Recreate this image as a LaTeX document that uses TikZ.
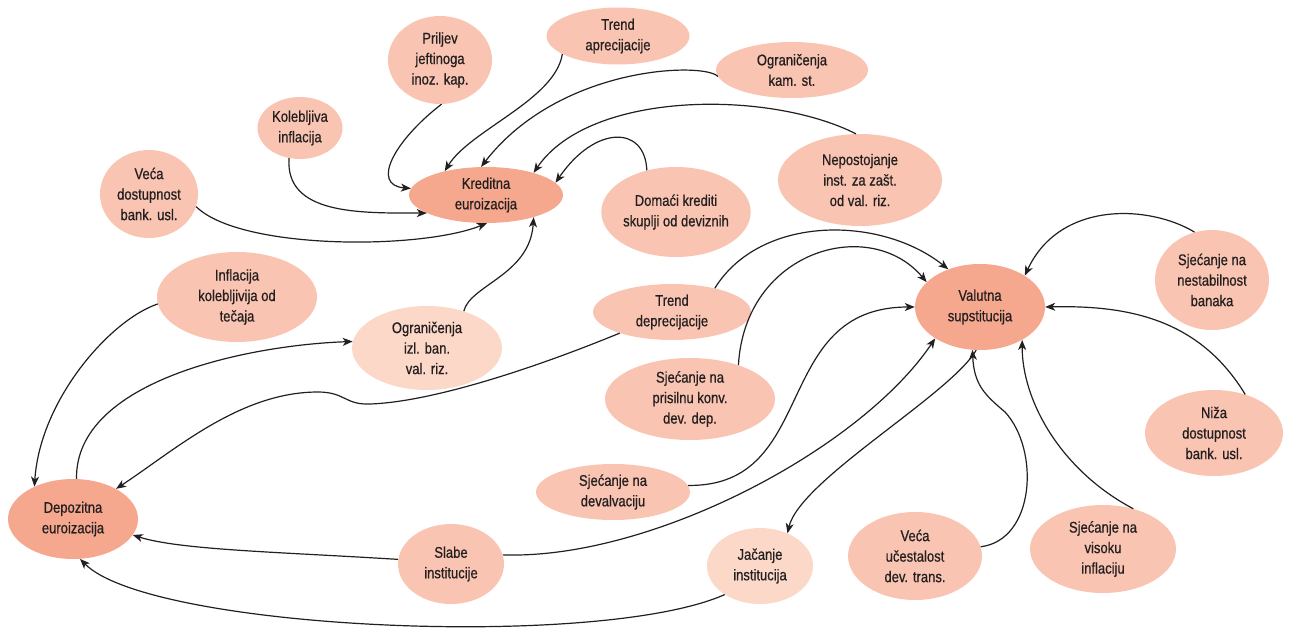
\documentclass[tikz,border=0pt]{standalone}
\usepackage{fontspec}
\setmainfont{Liberation Sans}[FakeStretch=0.84,FakeBold=0.6]
\usetikzlibrary{shapes.geometric,arrows.meta}

\definecolor{bubbleFill}{HTML}{F9C4B1}
\definecolor{hubFill}{HTML}{F5A88E}
\definecolor{paleFill}{HTML}{FCD8C8}
\definecolor{inkColor}{HTML}{231F20}

\def \lineWidth {1.2pt}

\tikzset{
  bubble/.style={ellipse, fill=bubbleFill, inner sep=0pt, align=center, text=inkColor,
    font=\fontsize{15.5}{20.5}\selectfont},
  hub/.style={bubble, fill=hubFill},
  pale/.style={bubble, fill=paleFill},
  link/.style={draw=inkColor, line width=\lineWidth, -{Stealth[length=10pt,width=8pt,inset=2.8pt]}}
}

\begin{document}
\begin{tikzpicture}[x=1pt, y=-1pt]
  \useasboundingbox (0,0) rectangle (1290,632);

  % causes
  \node[bubble, minimum width=98pt, minimum height=88pt] (vecdost) at (149,194) {Veća\\dostupnost\\bank. usl.};
  \node[bubble, minimum width=85pt, minimum height=62pt] (kolinf) at (300,128) {Kolebljiva\\inflacija};
  \node[bubble, minimum width=104pt, minimum height=88pt] (priljev) at (440,60) {Priljev\\jeftinoga\\inoz. kap.};
  \node[bubble, minimum width=143pt, minimum height=57pt] (trendapr) at (618,36) {Trend\\aprecijacije};
  \node[bubble, minimum width=152pt, minimum height=56pt] (ogrkam) at (792,70) {Ograničenja\\kam. st.};
  \node[bubble, minimum width=164pt, minimum height=92pt] (nepost) at (860,180) {Nepostojanje\\inst. za zašt.\\od val. riz.};
  \node[bubble, minimum width=143pt, minimum height=90pt] (domkred) at (676,212) {Domaći krediti\\skuplji od deviznih};
  \node[bubble, minimum width=160pt, minimum height=90pt] (inflkol) at (237,297) {Inflacija\\kolebljivija od\\tečaja};
  \node[pale, minimum width=150pt, minimum height=84pt] (ogrizl) at (427,348) {Ograničenja\\izl. ban.\\val. riz.};
  \node[bubble, minimum width=106pt, minimum height=80pt] (slabe) at (451,564) {Slabe\\institucije};
  \node[bubble, minimum width=158pt, minimum height=56pt] (trenddep) at (672,312) {Trend\\deprecijacije};
  \node[bubble, minimum width=170pt, minimum height=82pt] (prisil) at (690,399) {Sjećanje na\\prisilnu konv.\\dev. dep.};
  \node[bubble, minimum width=154pt, minimum height=56pt] (deval) at (613,492) {Sjećanje na\\devalvaciju};
  \node[pale, minimum width=106pt, minimum height=76pt] (jacanje) at (760,566) {Jačanje\\institucija};
  \node[bubble, minimum width=134pt, minimum height=88pt] (vecuc) at (915,556) {Veća\\učestalost\\dev. trans.};
  \node[bubble, minimum width=146pt, minimum height=88pt] (visoku) at (1103,549) {Sjećanje na\\visoku\\inflaciju};
  \node[bubble, minimum width=138pt, minimum height=86pt] (niza) at (1214,433) {Niža\\dostupnost\\bank. usl.};
  \node[bubble, minimum width=114pt, minimum height=100pt] (nestab) at (1212,280) {Sjećanje na\\nestabilnost\\banaka};

  % the three kinds of euroization
  \node[hub, minimum width=154pt, minimum height=56pt] (kred) at (486,195) {Kreditna\\euroizacija};
  \node[hub, minimum width=130pt, minimum height=80pt] (depeur) at (73,519) {Depozitna\\euroizacija};
  \node[hub, minimum width=130pt, minimum height=86pt] (valsup) at (980,307) {Valutna\\supstitucija};

  % into Kreditna
  \draw[link] (vecdost.-15) .. controls (240,250) and (420,250) .. (kred.-88);
  \draw[link] (kolinf.-110) .. controls (285,215) and (360,213) .. (kred.197);
  \draw[link] (priljev.-88) .. controls (395,140) and (370,185) .. (kred.175);
  \draw[link] (trendapr.198) .. controls (555,100) and (470,130) .. (kred.150);
  \draw[link] (ogrkam.185) .. controls (705,62) and (560,65) .. (kred.100);
  \draw[link] (nepost.95) .. controls (770,90) and (590,90) .. (kred.25);
  \draw[link] (domkred.125) .. controls (645,125) and (595,125) .. (kred.10);
  \draw[link] (ogrizl.45) .. controls (470,285) and (530,275) .. (kred.-25);

  % into Depozitna
  \draw[link] (inflkol.185) .. controls (110,320) and (40,400) .. (depeur.140);
  \draw[link] (depeur.85) .. controls (75,380) and (250,345) .. (ogrizl.175);
  \draw[link] (trenddep.202) .. controls (530,370) and (430,402) .. (370,404)
    .. controls (345,405) and (345,392) .. (318,392)
    .. controls (240,392) and (175,450) .. (depeur.35);
  \draw[link] (slabe.175) .. controls (280,552) and (180,550) .. (depeur.-15);
  \draw[link] (jacanje.-141) .. controls (600,650) and (150,630) .. (depeur.-80);

  % into Valutna
  \draw[link] (trenddep.29) .. controls (760,215) and (880,215) .. (valsup.130);
  \draw[link] (prisil.35) .. controls (745,250) and (870,215) .. (valsup.155);
  \draw[link] (deval.5) .. controls (820,487) and (770,307) .. (valsup.west);
  \draw[link] (slabe.10) .. controls (650,560) and (860,450) .. (valsup.-145);
  \draw[link] (vecuc.8) .. controls (1035,540) and (1040,450) .. (1005,412)
    .. controls (985,395) and (974,385) .. (valsup.-100);
  \draw[link] (visoku.53) .. controls (1060,470) and (1022,400) .. (valsup.-38);
  \draw[link] (nestab.110) .. controls (1150,205) and (1060,200) .. (valsup.35);
  \draw[link] (niza.51) .. controls (1200,320) and (1130,305) .. (valsup.east);

  % out of Valutna
  \draw[link] (valsup.-95) .. controls (950,395) and (800,480) .. (jacanje.50);
\end{tikzpicture}
\end{document}
